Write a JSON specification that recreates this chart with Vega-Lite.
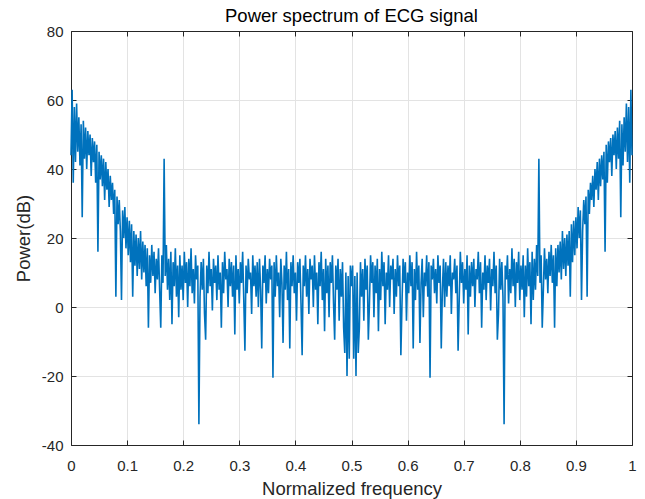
{
  "$schema": "https://vega.github.io/schema/vega-lite/v6.json",
  "width": 561,
  "height": 414,
  "autosize": {"type": "none"},
  "padding": {"left": 71, "top": 31, "right": 13, "bottom": 54},
  "background": "white",
  "config": {
    "view": {"stroke": null},
    "font": "Liberation Sans",
    "axis": {
      "domainColor": "#262626",
      "domainWidth": 1,
      "tickColor": "#262626",
      "tickWidth": 1,
      "tickSize": -5,
      "gridColor": "#e3e3e3",
      "gridWidth": 1,
      "labelFont": "Liberation Sans",
      "labelFontSize": 15,
      "labelColor": "#262626",
      "titleFont": "Liberation Sans",
      "titleFontSize": 18.5,
      "titleFontWeight": "normal",
      "titleColor": "#262626"
    }
  },
  "title": {
    "text": "Power spectrum of ECG signal",
    "font": "Liberation Sans",
    "fontSize": 18.5,
    "fontWeight": "normal",
    "color": "#000000",
    "baseline": "bottom",
    "offset": 4,
    "dy": 24
  },
  "data": {
    "values": [
      {"f":0.000,"p":44},{"f":0.002,"p":63},{"f":0.004,"p":36},{"f":0.006,"p":58},{"f":0.008,"p":42},
      {"f":0.010,"p":59},{"f":0.012,"p":45},{"f":0.014,"p":55},{"f":0.016,"p":41},{"f":0.018,"p":53},
      {"f":0.020,"p":26},{"f":0.022,"p":54},{"f":0.024,"p":43},{"f":0.026,"p":52},{"f":0.028,"p":40},
      {"f":0.030,"p":51},{"f":0.032,"p":44},{"f":0.034,"p":50},{"f":0.036,"p":38},{"f":0.038,"p":49},
      {"f":0.040,"p":42},{"f":0.042,"p":48},{"f":0.044,"p":36},{"f":0.046,"p":47},{"f":0.048,"p":16},
      {"f":0.050,"p":45},{"f":0.052,"p":37},{"f":0.054,"p":44},{"f":0.056,"p":35},{"f":0.058,"p":43},
      {"f":0.060,"p":31},{"f":0.062,"p":42},{"f":0.064,"p":34},{"f":0.066,"p":40},{"f":0.068,"p":29},
      {"f":0.070,"p":38},{"f":0.072,"p":31},{"f":0.074,"p":36},{"f":0.076,"p":27},{"f":0.078,"p":34},
      {"f":0.080,"p":3},{"f":0.082,"p":32},{"f":0.084,"p":24},{"f":0.086,"p":31},{"f":0.088,"p":22},
      {"f":0.090,"p":2},{"f":0.092,"p":28},{"f":0.094,"p":20},{"f":0.096,"p":29},{"f":0.098,"p":17},
      {"f":0.100,"p":26},{"f":0.102,"p":15},{"f":0.104,"p":25},{"f":0.106,"p":13},{"f":0.108,"p":24},
      {"f":0.110,"p":3},{"f":0.112,"p":22},{"f":0.114,"p":12},{"f":0.116,"p":21},{"f":0.118,"p":9},
      {"f":0.120,"p":20},{"f":0.122,"p":11},{"f":0.124,"p":22},{"f":0.126,"p":8},{"f":0.128,"p":19},
      {"f":0.130,"p":10},{"f":0.132,"p":18},{"f":0.134,"p":6},{"f":0.136,"p":17},{"f":0.138,"p":-6},
      {"f":0.140,"p":15},{"f":0.142,"p":7},{"f":0.144,"p":18},{"f":0.146,"p":9},{"f":0.148,"p":16},
      {"f":0.150,"p":4},{"f":0.152,"p":14},{"f":0.154,"p":8},{"f":0.156,"p":17},{"f":0.158,"p":5},
      {"f":0.160,"p":-6},{"f":0.162,"p":15},{"f":0.164,"p":7},{"f":0.166,"p":43},{"f":0.168,"p":9},
      {"f":0.170,"p":18},{"f":0.172,"p":5},{"f":0.174,"p":14},{"f":0.176,"p":2},{"f":0.178,"p":16},
      {"f":0.180,"p":-5},{"f":0.182,"p":13},{"f":0.184,"p":6},{"f":0.186,"p":17},{"f":0.188,"p":3},
      {"f":0.190,"p":12},{"f":0.192,"p":-3},{"f":0.194,"p":15},{"f":0.196,"p":5},{"f":0.198,"p":12},
      {"f":0.200,"p":2},{"f":0.202,"p":16},{"f":0.204,"p":7},{"f":0.206,"p":13},{"f":0.208,"p":0},
      {"f":0.210,"p":14},{"f":0.212,"p":6},{"f":0.214,"p":17},{"f":0.216,"p":4},{"f":0.218,"p":11},
      {"f":0.220,"p":1},{"f":0.222,"p":15},{"f":0.224,"p":8},{"f":0.226,"p":12},{"f":0.228,"p":-34},
      {"f":0.230,"p":3},{"f":0.232,"p":13},{"f":0.234,"p":5},{"f":0.236,"p":14},{"f":0.238,"p":-2},
      {"f":0.240,"p":-9.5},{"f":0.242,"p":12},{"f":0.244,"p":4},{"f":0.246,"p":16},{"f":0.248,"p":6},
      {"f":0.250,"p":11},{"f":0.252,"p":-1},{"f":0.254,"p":14},{"f":0.256,"p":7},{"f":0.258,"p":12},
      {"f":0.260,"p":2},{"f":0.262,"p":15},{"f":0.264,"p":5},{"f":0.266,"p":10},{"f":0.268,"p":-6},
      {"f":0.270,"p":13},{"f":0.272,"p":4},{"f":0.274,"p":16},{"f":0.276,"p":8},{"f":0.278,"p":11},
      {"f":0.280,"p":0},{"f":0.282,"p":14},{"f":0.284,"p":6},{"f":0.286,"p":13},{"f":0.288,"p":3},
      {"f":0.290,"p":12},{"f":0.292,"p":-8},{"f":0.294,"p":15},{"f":0.296,"p":5},{"f":0.298,"p":11},
      {"f":0.300,"p":1},{"f":0.302,"p":13},{"f":0.304,"p":7},{"f":0.306,"p":16},{"f":0.308,"p":2},
      {"f":0.310,"p":-12.7},{"f":0.312,"p":12},{"f":0.314,"p":4},{"f":0.316,"p":14},{"f":0.318,"p":8},
      {"f":0.320,"p":10},{"f":0.322,"p":-2},{"f":0.324,"p":15},{"f":0.326,"p":6},{"f":0.328,"p":12},
      {"f":0.330,"p":3},{"f":0.332,"p":13},{"f":0.334,"p":0},{"f":0.336,"p":14},{"f":0.338,"p":5},
      {"f":0.340,"p":-12},{"f":0.342,"p":12},{"f":0.344,"p":7},{"f":0.346,"p":15},{"f":0.348,"p":1},
      {"f":0.350,"p":11},{"f":0.352,"p":4},{"f":0.354,"p":14},{"f":0.356,"p":8},{"f":0.358,"p":12},
      {"f":0.360,"p":-20.5},{"f":0.362,"p":13},{"f":0.364,"p":3},{"f":0.366,"p":15},{"f":0.368,"p":6},
      {"f":0.370,"p":10},{"f":0.372,"p":-3},{"f":0.374,"p":14},{"f":0.376,"p":7},{"f":0.378,"p":-10.4},
      {"f":0.380,"p":12},{"f":0.382,"p":5},{"f":0.384,"p":16},{"f":0.386,"p":2},{"f":0.388,"p":11},
      {"f":0.390,"p":-12},{"f":0.392,"p":13},{"f":0.394,"p":6},{"f":0.396,"p":15},{"f":0.398,"p":4},
      {"f":0.400,"p":10},{"f":0.402,"p":-4},{"f":0.404,"p":13},{"f":0.406,"p":7},{"f":0.408,"p":14},
      {"f":0.410,"p":1},{"f":0.412,"p":-14},{"f":0.414,"p":12},{"f":0.416,"p":6},{"f":0.418,"p":15},
      {"f":0.420,"p":3},{"f":0.422,"p":11},{"f":0.424,"p":-2},{"f":0.426,"p":14},{"f":0.428,"p":8},
      {"f":0.430,"p":12},{"f":0.432,"p":0},{"f":0.434,"p":15},{"f":0.436,"p":5},{"f":0.438,"p":10},
      {"f":0.440,"p":-5},{"f":0.442,"p":13},{"f":0.444,"p":6},{"f":0.446,"p":16},{"f":0.448,"p":2},
      {"f":0.450,"p":11},{"f":0.452,"p":-7},{"f":0.454,"p":14},{"f":0.456,"p":4},{"f":0.458,"p":12},
      {"f":0.460,"p":-3},{"f":0.462,"p":13},{"f":0.464,"p":7},{"f":0.466,"p":15},{"f":0.468,"p":1},
      {"f":0.470,"p":-9.5},{"f":0.472,"p":12},{"f":0.474,"p":5},{"f":0.476,"p":14},{"f":0.478,"p":-4},
      {"f":0.480,"p":11},{"f":0.482,"p":3},{"f":0.484,"p":13},{"f":0.486,"p":-6},{"f":0.488,"p":-13.3},
      {"f":0.490,"p":10},{"f":0.492,"p":-20},{"f":0.494,"p":9},{"f":0.496,"p":-15},{"f":0.498,"p":12},
      {"f":0.500,"p":6},
      {"f":0.502,"p":12},{"f":0.504,"p":-15},{"f":0.506,"p":9},{"f":0.508,"p":-20},{"f":0.510,"p":10},
      {"f":0.512,"p":-13.3},{"f":0.514,"p":-6},{"f":0.516,"p":13},{"f":0.518,"p":3},{"f":0.520,"p":11},
      {"f":0.522,"p":-4},{"f":0.524,"p":14},{"f":0.526,"p":5},{"f":0.528,"p":12},{"f":0.530,"p":-9.5},
      {"f":0.532,"p":1},{"f":0.534,"p":15},{"f":0.536,"p":7},{"f":0.538,"p":13},{"f":0.540,"p":-3},
      {"f":0.542,"p":12},{"f":0.544,"p":4},{"f":0.546,"p":14},{"f":0.548,"p":-7},{"f":0.550,"p":11},
      {"f":0.552,"p":2},{"f":0.554,"p":16},{"f":0.556,"p":6},{"f":0.558,"p":13},{"f":0.560,"p":-5},
      {"f":0.562,"p":10},{"f":0.564,"p":5},{"f":0.566,"p":15},{"f":0.568,"p":0},{"f":0.570,"p":12},
      {"f":0.572,"p":8},{"f":0.574,"p":14},{"f":0.576,"p":-2},{"f":0.578,"p":11},{"f":0.580,"p":3},
      {"f":0.582,"p":15},{"f":0.584,"p":6},{"f":0.586,"p":12},{"f":0.588,"p":-14},{"f":0.590,"p":1},
      {"f":0.592,"p":14},{"f":0.594,"p":7},{"f":0.596,"p":13},{"f":0.598,"p":-4},{"f":0.600,"p":10},
      {"f":0.602,"p":4},{"f":0.604,"p":15},{"f":0.606,"p":6},{"f":0.608,"p":13},{"f":0.610,"p":-12},
      {"f":0.612,"p":11},{"f":0.614,"p":2},{"f":0.616,"p":16},{"f":0.618,"p":5},{"f":0.620,"p":12},
      {"f":0.622,"p":-10.4},{"f":0.624,"p":7},{"f":0.626,"p":14},{"f":0.628,"p":-3},{"f":0.630,"p":10},
      {"f":0.632,"p":6},{"f":0.634,"p":15},{"f":0.636,"p":3},{"f":0.638,"p":13},{"f":0.640,"p":-20.5},
      {"f":0.642,"p":12},{"f":0.644,"p":8},{"f":0.646,"p":14},{"f":0.648,"p":4},{"f":0.650,"p":11},
      {"f":0.652,"p":1},{"f":0.654,"p":15},{"f":0.656,"p":7},{"f":0.658,"p":12},{"f":0.660,"p":-12},
      {"f":0.662,"p":5},{"f":0.664,"p":14},{"f":0.666,"p":0},{"f":0.668,"p":13},{"f":0.670,"p":3},
      {"f":0.672,"p":12},{"f":0.674,"p":6},{"f":0.676,"p":15},{"f":0.678,"p":-2},{"f":0.680,"p":10},
      {"f":0.682,"p":8},{"f":0.684,"p":14},{"f":0.686,"p":4},{"f":0.688,"p":12},{"f":0.690,"p":-12.7},
      {"f":0.692,"p":2},{"f":0.694,"p":16},{"f":0.696,"p":7},{"f":0.698,"p":13},{"f":0.700,"p":1},
      {"f":0.702,"p":11},{"f":0.704,"p":5},{"f":0.706,"p":15},{"f":0.708,"p":-8},{"f":0.710,"p":12},
      {"f":0.712,"p":3},{"f":0.714,"p":13},{"f":0.716,"p":6},{"f":0.718,"p":14},{"f":0.720,"p":0},
      {"f":0.722,"p":11},{"f":0.724,"p":8},{"f":0.726,"p":16},{"f":0.728,"p":4},{"f":0.730,"p":13},
      {"f":0.732,"p":-6},{"f":0.734,"p":10},{"f":0.736,"p":5},{"f":0.738,"p":15},{"f":0.740,"p":2},
      {"f":0.742,"p":12},{"f":0.744,"p":7},{"f":0.746,"p":14},{"f":0.748,"p":-1},{"f":0.750,"p":11},
      {"f":0.752,"p":6},{"f":0.754,"p":16},{"f":0.756,"p":4},{"f":0.758,"p":12},{"f":0.760,"p":-9.5},
      {"f":0.762,"p":-2},{"f":0.764,"p":14},{"f":0.766,"p":5},{"f":0.768,"p":13},{"f":0.770,"p":3},
      {"f":0.772,"p":-34},{"f":0.774,"p":12},{"f":0.776,"p":8},{"f":0.778,"p":15},{"f":0.780,"p":1},
      {"f":0.782,"p":11},{"f":0.784,"p":4},{"f":0.786,"p":17},{"f":0.788,"p":6},{"f":0.790,"p":14},
      {"f":0.792,"p":0},{"f":0.794,"p":13},{"f":0.796,"p":7},{"f":0.798,"p":16},{"f":0.800,"p":2},
      {"f":0.802,"p":12},{"f":0.804,"p":5},{"f":0.806,"p":15},{"f":0.808,"p":-3},{"f":0.810,"p":12},
      {"f":0.812,"p":3},{"f":0.814,"p":17},{"f":0.816,"p":6},{"f":0.818,"p":13},{"f":0.820,"p":-5},
      {"f":0.822,"p":16},{"f":0.824,"p":2},{"f":0.826,"p":14},{"f":0.828,"p":5},{"f":0.830,"p":18},
      {"f":0.832,"p":9},{"f":0.834,"p":43},{"f":0.836,"p":7},{"f":0.838,"p":15},{"f":0.840,"p":-6},
      {"f":0.842,"p":5},{"f":0.844,"p":17},{"f":0.846,"p":8},{"f":0.848,"p":14},{"f":0.850,"p":4},
      {"f":0.852,"p":16},{"f":0.854,"p":9},{"f":0.856,"p":18},{"f":0.858,"p":7},{"f":0.860,"p":15},
      {"f":0.862,"p":-6},{"f":0.864,"p":17},{"f":0.866,"p":6},{"f":0.868,"p":18},{"f":0.870,"p":10},
      {"f":0.872,"p":19},{"f":0.874,"p":8},{"f":0.876,"p":22},{"f":0.878,"p":11},{"f":0.880,"p":20},
      {"f":0.882,"p":9},{"f":0.884,"p":21},{"f":0.886,"p":12},{"f":0.888,"p":22},{"f":0.890,"p":3},
      {"f":0.892,"p":24},{"f":0.894,"p":13},{"f":0.896,"p":25},{"f":0.898,"p":15},{"f":0.900,"p":26},
      {"f":0.902,"p":17},{"f":0.904,"p":29},{"f":0.906,"p":20},{"f":0.908,"p":28},{"f":0.910,"p":2},
      {"f":0.912,"p":22},{"f":0.914,"p":31},{"f":0.916,"p":24},{"f":0.918,"p":32},{"f":0.920,"p":3},
      {"f":0.922,"p":34},{"f":0.924,"p":27},{"f":0.926,"p":36},{"f":0.928,"p":31},{"f":0.930,"p":38},
      {"f":0.932,"p":29},{"f":0.934,"p":40},{"f":0.936,"p":34},{"f":0.938,"p":42},{"f":0.940,"p":31},
      {"f":0.942,"p":43},{"f":0.944,"p":35},{"f":0.946,"p":44},{"f":0.948,"p":37},{"f":0.950,"p":45},
      {"f":0.952,"p":16},{"f":0.954,"p":47},{"f":0.956,"p":36},{"f":0.958,"p":48},{"f":0.960,"p":42},
      {"f":0.962,"p":49},{"f":0.964,"p":38},{"f":0.966,"p":50},{"f":0.968,"p":44},{"f":0.970,"p":51},
      {"f":0.972,"p":40},{"f":0.974,"p":52},{"f":0.976,"p":43},{"f":0.978,"p":54},{"f":0.980,"p":26},
      {"f":0.982,"p":53},{"f":0.984,"p":41},{"f":0.986,"p":55},{"f":0.988,"p":45},{"f":0.990,"p":59},
      {"f":0.992,"p":42},{"f":0.994,"p":58},{"f":0.996,"p":36},{"f":0.998,"p":63},{"f":1.000,"p":44}
    ]
  },
  "layer": [
    {
      "mark": {"type": "line", "color": "#0072BD", "strokeWidth": 1.6},
      "encoding": {
        "x": {
          "field": "f", "type": "quantitative",
          "scale": {"domain": [0, 1], "nice": false, "zero": false},
          "axis": {
            "orient": "bottom",
            "title": "Normalized frequency",
            "values": [0, 0.1, 0.2, 0.3, 0.4, 0.5, 0.6, 0.7, 0.8, 0.9, 1],
            "labelExpr": "datum.value + ''",
            "labelPadding": 18,
            "labelFlush": false,
            "grid": true,
            "titleBaseline": "alphabetic",
            "titleY": 49
          }
        },
        "y": {
          "field": "p", "type": "quantitative",
          "scale": {"domain": [-40, 80], "nice": false, "zero": false},
          "axis": {
            "orient": "left",
            "title": "Power(dB)",
            "values": [-40, -20, 0, 20, 40, 60, 80],
            "labelExpr": "datum.value + ''",
            "labelPadding": 13,
            "labelFlush": false,
            "grid": true,
            "titleBaseline": "alphabetic",
            "titleAngle": 270,
            "titleX": -42,
            "titleY": 207
          }
        }
      }
    },
    {
      "mark": {"type": "line", "opacity": 0},
      "encoding": {
        "x": {
          "field": "f", "type": "quantitative",
          "axis": {
            "orient": "top", "title": null, "labels": false, "grid": false,
            "values": [0, 0.1, 0.2, 0.3, 0.4, 0.5, 0.6, 0.7, 0.8, 0.9, 1]
          }
        },
        "y": {
          "field": "p", "type": "quantitative",
          "axis": {
            "orient": "right", "title": null, "labels": false, "grid": false,
            "values": [-40, -20, 0, 20, 40, 60, 80]
          }
        }
      }
    }
  ],
  "resolve": {"axis": {"x": "independent", "y": "independent"}}
}
